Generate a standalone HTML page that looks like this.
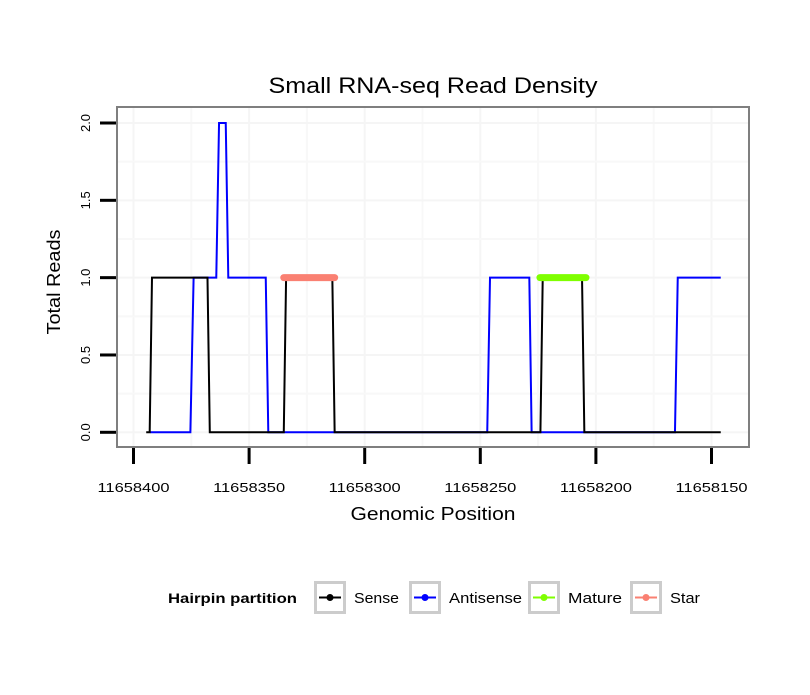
<!DOCTYPE html>
<html><head><meta charset="utf-8"><style>
body{margin:0;background:#fff;width:810px;height:690px;overflow:hidden}
svg text{font-family:"Liberation Sans",sans-serif}
</style></head><body>
<svg id="chart" width="810" height="690">
<rect x="0" y="0" width="810" height="690" fill="#fff"/>
<text x="433" y="93" font-size="22" text-anchor="middle" textLength="329" lengthAdjust="spacingAndGlyphs">Small RNA-seq Read Density</text>
<g id="grid"></g>
<g id="series"></g>
<rect x="117" y="107" width="632" height="340" fill="none" stroke="#7f7f7f" stroke-width="2"/>
<g id="axes"></g>
<text x="433" y="520" font-size="18" text-anchor="middle" textLength="165" lengthAdjust="spacingAndGlyphs">Genomic Position</text>
<text transform="translate(60,282) rotate(-90)" font-size="18" text-anchor="middle" textLength="105" lengthAdjust="spacingAndGlyphs">Total Reads</text>
<g>
<text x="168" y="603" font-size="14" font-weight="bold" textLength="129" lengthAdjust="spacingAndGlyphs">Hairpin partition</text>
<g id="legend"></g>
</g>
</svg>
<script>
const xTicks=[11658400,11658350,11658300,11658250,11658200,11658150];
const yTicks=[0,0.5,1,1.5,2];
const sensePos=[11658394.5,11658393,11658392,11658368,11658367,11658335,11658334,11658314,11658313,11658224,11658223,11658206,11658205,11658146];
const senseVal=[0,0,1,1,0,0,1,1,0,0,1,1,0,0];
const antiPos=[11658392.7,11658375.4,11658374,11658364.2,11658363,11658360.1,11658359,11658342.8,11658341.7,11658247,11658245.8,11658228.8,11658227.8,11658165.8,11658164.6,11658146];
const antiVal=[0,0,1,1,2,2,1,1,0,0,1,1,0,0,1,1];
const starRange=[11658335,11658313];
const matureRange=[11658224.2,11658204.3];
const legendLabels=["Sense","Antisense","Mature","Star"];
const legendColors=["#000000","#0000ff","#7fff00","#fa8072"];

const NS="http://www.w3.org/2000/svg";
function X(p){return 133.5+(11658400-p)*2.312;}
function Y(v){return 432.3-v*154.65;}
function mk(tag,attrs,parent){const e=document.createElementNS(NS,tag);for(const k in attrs)e.setAttribute(k,attrs[k]);parent.appendChild(e);return e;}
const grid=document.getElementById('grid'),axes=document.getElementById('axes'),series=document.getElementById('series'),legend=document.getElementById('legend');
for(let i=0;i<xTicks.length;i++){
  const gl=mk('line',{x1:X(xTicks[i]),x2:X(xTicks[i]),y1:108,y2:446,stroke:'#f5f5f5','stroke-width':2},grid);
  
  
  if(i<xTicks.length-1){const m=(xTicks[i]+xTicks[i+1])/2;
  const ml=mk('line',{x1:X(m),x2:X(m),y1:108,y2:446,stroke:'#f8f8f8','stroke-width':2},grid);
  
  }
}
for(let i=0;i<yTicks.length;i++){
  const gl=mk('line',{x1:118,x2:748,y1:Y(yTicks[i]),y2:Y(yTicks[i]),stroke:'#f5f5f5','stroke-width':2},grid);
  
  
  if(i<yTicks.length-1){const m=(yTicks[i]+yTicks[i+1])/2;
  const ml=mk('line',{x1:118,x2:748,y1:Y(m),y2:Y(m),stroke:'#f8f8f8','stroke-width':2},grid);
  
  }
}
xTicks.forEach(t=>{
  const l=mk('line',{x1:X(t),x2:X(t),y1:448,y2:464,stroke:'#000','stroke-width':3},axes);
  
  
  const tx=mk('text',{x:X(t),y:492,'font-size':13,'text-anchor':'middle',textLength:72,lengthAdjust:'spacingAndGlyphs'},axes);tx.textContent=t;
  
  
});
yTicks.forEach(t=>{
  const l=mk('line',{x1:100,x2:116,y1:Y(t),y2:Y(t),stroke:'#000','stroke-width':3},axes);
  
  
  const tx=mk('text',{transform:`translate(90,${Y(t)}) rotate(-90)`,'font-size':13,'text-anchor':'middle'},axes);tx.textContent=t.toFixed(1);
  
  
});
const bl=mk('polyline',{points:antiPos.map((p,i)=>X(p)+','+Y(antiVal[i])).join(' '),fill:'none',stroke:'#0000ff','stroke-width':2},series);


const sl=mk('polyline',{points:sensePos.map((p,i)=>X(p)+','+Y(senseVal[i])).join(' '),fill:'none',stroke:'#000','stroke-width':2},series);


const st=mk('line',{x1:X(starRange[0]),x2:X(starRange[1]),y1:Y(1),y2:Y(1),stroke:'#fa8072','stroke-width':7,'stroke-linecap':'round'},series);


const mt=mk('line',{x1:X(matureRange[0]),x2:X(matureRange[1]),y1:Y(1),y2:Y(1),stroke:'#7fff00','stroke-width':7,'stroke-linecap':'round'},series);


const boxX=[314,409,528,630];
const labW=[45,73,54,30];
legendLabels.forEach((lab,i)=>{
  const g=mk('g',{},legend);
  
  
  mk('rect',{x:boxX[i]+1.5,y:582.5,width:29,height:30,fill:'#fff',stroke:'#cccccc','stroke-width':3},g);
  mk('line',{x1:boxX[i]+5,x2:boxX[i]+27,y1:597.5,y2:597.5,stroke:legendColors[i],'stroke-width':2},g);
  mk('circle',{cx:boxX[i]+16,cy:597.5,r:3.5,fill:legendColors[i]},g);
  const t=mk('text',{x:boxX[i]+40,y:603,'font-size':15,textLength:labW[i],lengthAdjust:'spacingAndGlyphs'},g);t.textContent=lab;
});
</script>
</body></html>
